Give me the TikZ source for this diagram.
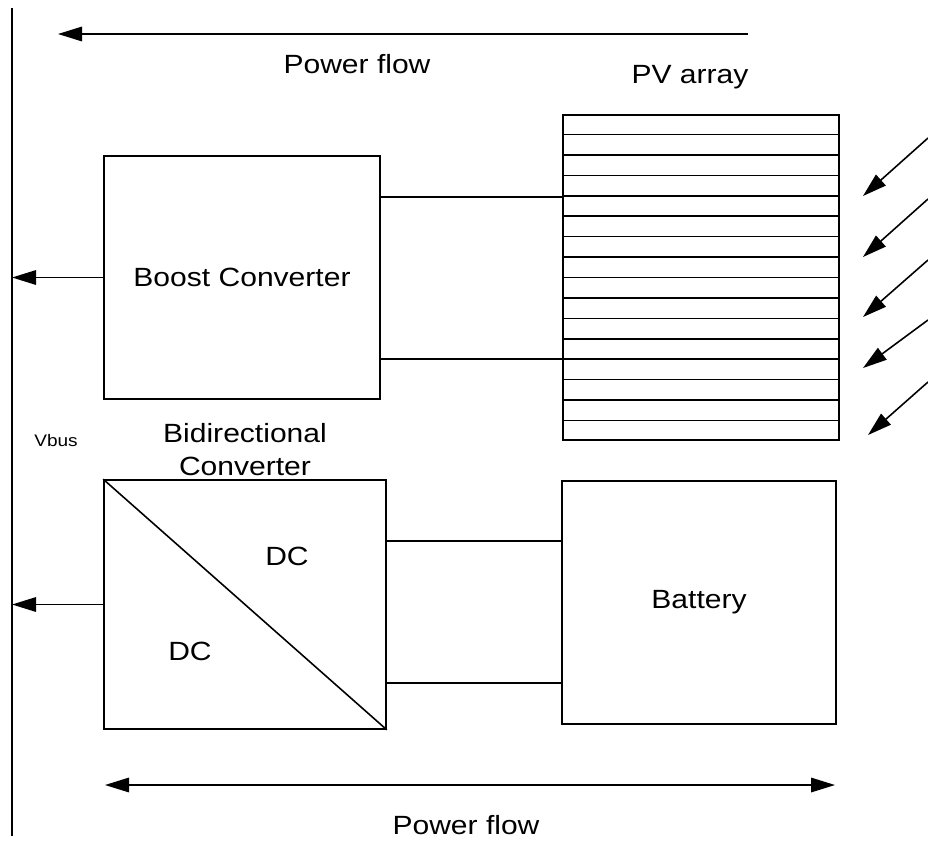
\documentclass[tikz,border=0pt]{standalone}
\usepackage{fontspec}
\setmainfont{Liberation Sans}[FakeStretch=1.14]
\usetikzlibrary{arrows.meta,positioning,calc}

\tikzset{
  block/.style={draw, line width=0.9pt, rectangle, inner sep=0pt, font=\fontsize{15}{18.7}\selectfont},
  lbl/.style={inner sep=0pt, font=\fontsize{15}{18.7}\selectfont},
  wire/.style={line width=0.9pt},
  flow/.style={line width=0.9pt, -{Triangle[length=4.8mm,width=2.9mm]}},
  flowboth/.style={line width=0.9pt, {Triangle[length=4.8mm,width=2.9mm]}-{Triangle[length=4.8mm,width=2.9mm]}},
}

\begin{document}
\begin{tikzpicture}[x=0.2mm,y=-0.2mm]
\useasboundingbox (0,0) rectangle (928,841);
% DC bus
\coordinate (bustop) at (12,8);
\coordinate (busbot) at (12,836);
\draw[wire] (bustop) -- (busbot);
\node[font=\fontsize{9.5}{11}\selectfont, anchor=base, inner sep=0pt] (vbus) at (56,446) {Vbus};
% Blocks
\node[block, minimum width=55.2mm, minimum height=48.6mm] (boost) at (242,277.5) {Boost Converter};
\node[block, minimum width=55.2mm, minimum height=65mm] (pv) at (701,277.5) {};
\node[block, minimum width=56.4mm, minimum height=49.8mm] (bidir) at (245,604.5) {};
\node[block, minimum width=54.8mm, minimum height=48.6mm] (batt) at (699,602.5) {Battery};
% PV cells
\foreach \i in {1,...,15} {
  \draw[wire] ($(pv.north west)!\i/16!(pv.south west)$) -- ($(pv.north east)!\i/16!(pv.south east)$);
}
% Sun rays
\foreach \ya/\xb/\yb in {138/863/196,199/863/257,260/863/317,320/863/368,382/868/435} {
  \coordinate (ray\ya) at (928,\ya);
  \coordinate (hit\ya) at (\xb,\yb);
  \draw[flow] (ray\ya) -- (hit\ya);
}
% DC/DC symbol
\draw[wire] (bidir.north west) -- (bidir.south east);
\node[lbl, anchor=base] (dcbus) at (287,565) {DC};
\node[lbl, anchor=base] (dcbatt) at (190,660) {DC};
\node[lbl, align=center, anchor=south] (bidirlbl) at (245,476) {Bidirectional\\Converter};
\node[lbl, anchor=base] (pvlbl) at (690,83) {PV array};
% Wiring
\draw[wire] ([yshift=16.1mm]boost.east) -- ([yshift=16.1mm]boost.east -| pv.west);
\draw[wire] ([yshift=-16.3mm]boost.east) -- ([yshift=-16.3mm]boost.east -| pv.west);
\draw[wire] ([yshift=12.7mm]bidir.east) -- ([yshift=12.7mm]bidir.east -| batt.west);
\draw[wire] ([yshift=-15.7mm]bidir.east) -- ([yshift=-15.7mm]bidir.east -| batt.west);
\draw[flow] (boost.west) -- (boost.west -| bustop);
\draw[flow] (bidir.west) -- (bidir.west -| bustop);
% Power flow arrows
\coordinate (pfa) at (748,34);
\coordinate (pfb) at (58,34);
\draw[flow] (pfa) -- (pfb);
\node[lbl, anchor=base] (pftop) at (357,73) {Power flow};
\coordinate (pfc) at (105,785);
\coordinate (pfd) at (835,785);
\draw[flowboth] (pfc) -- (pfd);
\node[lbl, anchor=base] (pfbot) at (466,834) {Power flow};
\end{tikzpicture}
\end{document}
